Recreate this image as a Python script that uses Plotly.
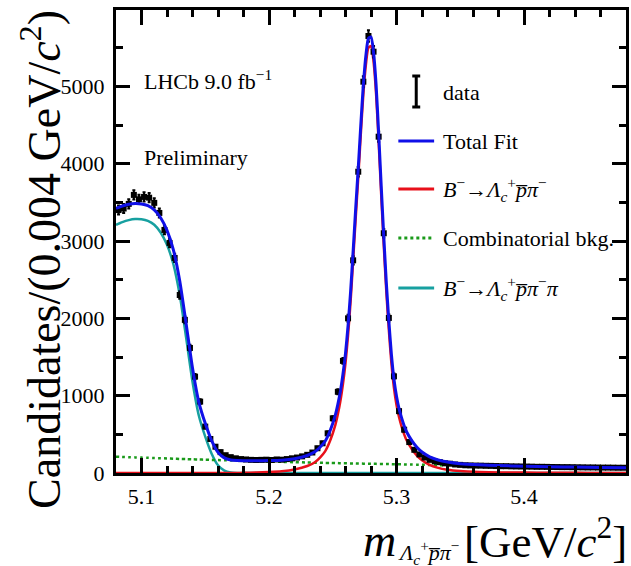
import numpy as np
import plotly.graph_objects as go

# ---- binned data: 100 bins of 4 MeV from 5.08 to 5.48 GeV ----
bin_lo, bin_w = 5.08, 0.004
counts = [
    3400, 3420, 3480, 3596, 3540, 3570, 3560, 3493, 3363, 3143,
    2975, 2781, 2302, 1980, 1617, 1246, 923, 600, 440, 340,
    270, 230, 205, 190, 180, 175, 170, 168, 170, 172,
    168, 175, 172, 180, 190, 200, 215, 235, 265, 320,
    384, 513, 707, 1050, 1450, 2000, 2750, 3896, 5060, 5651,
    5448, 4349, 3100, 2005, 1250, 800, 560, 400, 300, 240,
    200, 170, 150, 140, 125, 120, 110, 105, 100, 98,
    96, 95, 93, 92, 90, 88, 88, 86, 85, 84,
    83, 82, 80, 80, 79, 78, 77, 76, 76, 75,
    74, 73, 72, 72, 71, 70, 70, 69, 68, 68,
]
bin_centres = [round(bin_lo + bin_w * (i + 0.5), 4) for i in range(len(counts))]
errors = np.sqrt(np.array(counts, dtype=float))

# ---- fit components sampled on a common mass grid ----
fit_x = [
    5.080, 5.085, 5.090, 5.095, 5.100, 5.105, 5.110, 5.115, 5.120, 5.125,
    5.130, 5.135, 5.140, 5.145, 5.150, 5.155, 5.160, 5.165, 5.170, 5.175,
    5.180, 5.190, 5.200, 5.210, 5.220, 5.230, 5.236, 5.240, 5.244, 5.248,
    5.252, 5.254, 5.256, 5.258, 5.260, 5.262, 5.264, 5.266, 5.268, 5.270,
    5.272, 5.274, 5.276, 5.278, 5.280, 5.282, 5.284, 5.286, 5.288, 5.290,
    5.292, 5.294, 5.296, 5.298, 5.300, 5.302, 5.304, 5.306, 5.308, 5.312,
    5.316, 5.320, 5.326, 5.332, 5.340, 5.350, 5.365, 5.380, 5.400, 5.420,
    5.440, 5.460, 5.480,
]
sig_fit = [
    0, 0, 0, 0, 0, 0, 0, 0, 0, 0,
    0, 0, 0, 0, 0, 0, 0, 0, 1, 1,
    2, 6, 12, 22, 45, 90, 140, 200, 280, 420,
    620, 760, 930, 1150, 1420, 1780, 2220, 2750, 3300, 3820,
    4380, 4900, 5280, 5500, 5520, 5320, 4900, 4280, 3600, 2950,
    2350, 1850, 1420, 1100, 880, 720, 600, 500, 420, 310,
    225, 165, 105, 70, 42, 25, 14, 8, 5, 3,
    2, 1, 1,
]
comb_fit = [
    211, 208, 205, 202, 199, 196, 193, 191, 188, 185,
    182, 180, 177, 174, 172, 169, 167, 165, 162, 160,
    157, 153, 149, 144, 140, 136, 134, 132, 131, 130,
    128, 128, 127, 126, 126, 125, 124, 124, 123, 122,
    122, 121, 120, 120, 119, 118, 118, 117, 117, 116,
    115, 115, 114, 113, 113, 112, 112, 111, 110, 109,
    108, 106, 104, 102, 100, 96, 92, 88, 83, 78,
    74, 70, 66,
]
partreco_fit = [
    3210, 3245, 3270, 3283, 3280, 3260, 3210, 3110, 2950, 2700,
    2300, 1750, 1180, 740, 470, 250, 100, 30, 6, 0,
    0, 0, 0, 0, 0, 0, 0, 0, 0, 0,
    0, 0, 0, 0, 0, 0, 0, 0, 0, 0,
    0, 0, 0, 0, 0, 0, 0, 0, 0, 0,
    0, 0, 0, 0, 0, 0, 0, 0, 0, 0,
    0, 0, 0, 0, 0, 0, 0, 0, 0, 0,
    0, 0, 0,
]
total_fit = [s + c + p for s, c, p in zip(sig_fit, comb_fit, partreco_fit)]

# ---- colours ----
C_TOTAL = "#1010e8"
C_SIG = "#e8101a"
C_COMB = "#1a9a1a"
C_PART = "#17a0a0"
SERIF = "Liberation Serif"

# ---- canvas geometry (pixels) ----
W, H = 631, 566
ML, MR, MT, MB = 116, 2, 10, 93
PW, PH = W - ML - MR, H - MT - MB


def px(xp):
    return (xp - ML) / PW


def py(yp):
    return (H - MB - yp) / PH


fig = go.Figure()

fig.add_trace(go.Scatter(x=fit_x, y=partreco_fit, mode="lines",
                         line=dict(color=C_PART, width=2.5, shape="spline", smoothing=0.6),
                         hoverinfo="skip"))
fig.add_trace(go.Scatter(x=fit_x, y=comb_fit, mode="lines",
                         line=dict(color=C_COMB, width=2.5, dash="dot", shape="spline", smoothing=0.6),
                         hoverinfo="skip"))
fig.add_trace(go.Scatter(x=fit_x, y=sig_fit, mode="lines",
                         line=dict(color=C_SIG, width=2.5, shape="spline", smoothing=0.6),
                         hoverinfo="skip"))
fig.add_trace(go.Scatter(x=bin_centres, y=counts, mode="markers",
                         marker=dict(symbol="square", size=6, color="black"),
                         error_y=dict(type="data", array=errors, thickness=2, width=1.5, color="black")))
fig.add_trace(go.Scatter(x=fit_x, y=total_fit, mode="lines",
                         line=dict(color=C_TOTAL, width=3, shape="spline", smoothing=0.6),
                         hoverinfo="skip"))

axis_common = dict(
    ticks="inside", tickwidth=2.5, tickcolor="black",
    showline=True, linewidth=3, linecolor="black", mirror="allticks",
    showgrid=False, zeroline=False,
    tickfont=dict(family=SERIF, size=22, color="black"),
)
fig.update_xaxes(range=[5.08, 5.48], tickmode="linear", tick0=5.1, dtick=0.1, ticklen=15,
                 minor=dict(ticks="inside", ticklen=7, tickwidth=2.5, tickcolor="black",
                            tick0=5.08, dtick=0.02, showgrid=False),
                 ticklabelstandoff=2,
                 **axis_common)
fig.update_yaxes(range=[0, 5987], tickmode="linear", tick0=0, dtick=1000, ticklen=14,
                 tickformat="d",
                 minor=dict(ticks="inside", ticklen=7, tickwidth=2.5, tickcolor="black",
                            tick0=0, dtick=500, showgrid=False),
                 ticklabelstandoff=4,
                 **axis_common)

annotations = [
    dict(x=px(142), y=py(80), text="LHCb 9.0 fb<sup>−1</sup>", xanchor="left", yanchor="middle",
         font=dict(family=SERIF, size=22, color="black")),
    dict(x=px(142), y=py(157), text="Preliminary", xanchor="left", yanchor="middle",
         font=dict(family=SERIF, size=22, color="black")),
    # y-axis title
    dict(x=px(40), y=py(8), text="Candidates/(0.004 GeV/<i>c</i><sup>2</sup>)", textangle=-90,
         xanchor="center", yanchor="top", font=dict(family=SERIF, size=46, color="black")),
    # x-axis title pieces
    dict(x=px(400), y=py(540), text="<i>m</i>", xanchor="right", yanchor="middle",
         font=dict(family=SERIF, size=46, color="black")),
    dict(x=px(398), y=py(552), text="<i>Λ</i><sub><i>c</i></sub><sup>+</sup><i>p̅π</i><sup>−</sup>",
         xanchor="left", yanchor="middle", font=dict(family=SERIF, size=22, color="black")),
    dict(x=px(632), y=py(538), text="[GeV/<i>c</i><sup>2</sup>]", xanchor="right", yanchor="middle",
         font=dict(family=SERIF, size=45, color="black")),
]

# hand-drawn key
leg_text_x = px(443)
leg_rows = [
    ("data", 92, None),
    ("Total Fit", 141, dict(color=C_TOTAL, width=3)),
    ("<i>B</i><sup>−</sup>→<i>Λ</i><sub><i>c</i></sub><sup>+</sup><i>p̅π</i><sup>−</sup>", 189,
     dict(color=C_SIG, width=3)),
    ("Combinatorial bkg.", 238, dict(color=C_COMB, width=3, dash="dot")),
    ("<i>B</i><sup>−</sup>→<i>Λ</i><sub><i>c</i></sub><sup>+</sup><i>p̅π</i><sup>−</sup><i>π</i>", 288,
     dict(color=C_PART, width=3)),
]
shapes = []
for label, yrow, line in leg_rows:
    annotations.append(dict(x=leg_text_x, y=py(yrow), text=label, xanchor="left", yanchor="middle",
                            font=dict(family=SERIF, size=22, color="black")))
    if line is not None:
        shapes.append(dict(type="line", xref="paper", yref="paper", x0=px(400), x1=px(436),
                           y0=py(yrow), y1=py(yrow), line=line))
# error-bar glyph for the data entry
shapes += [
    dict(type="line", xref="paper", yref="paper", x0=px(418), x1=px(418), y0=py(76), y1=py(107),
         line=dict(color="black", width=3)),
    dict(type="line", xref="paper", yref="paper", x0=px(414), x1=px(422), y0=py(76), y1=py(76),
         line=dict(color="black", width=3)),
    dict(type="line", xref="paper", yref="paper", x0=px(414), x1=px(422), y0=py(107), y1=py(107),
         line=dict(color="black", width=3)),
]

for a in annotations:
    a.setdefault("xref", "paper")
    a.setdefault("yref", "paper")
    a.setdefault("showarrow", False)

fig.update_layout(
    width=W, height=H,
    margin=dict(l=ML, r=MR, t=MT, b=MB),
    paper_bgcolor="white", plot_bgcolor="white",
    showlegend=False,
    annotations=annotations,
    shapes=shapes,
)

fig.write_html("out.html")
